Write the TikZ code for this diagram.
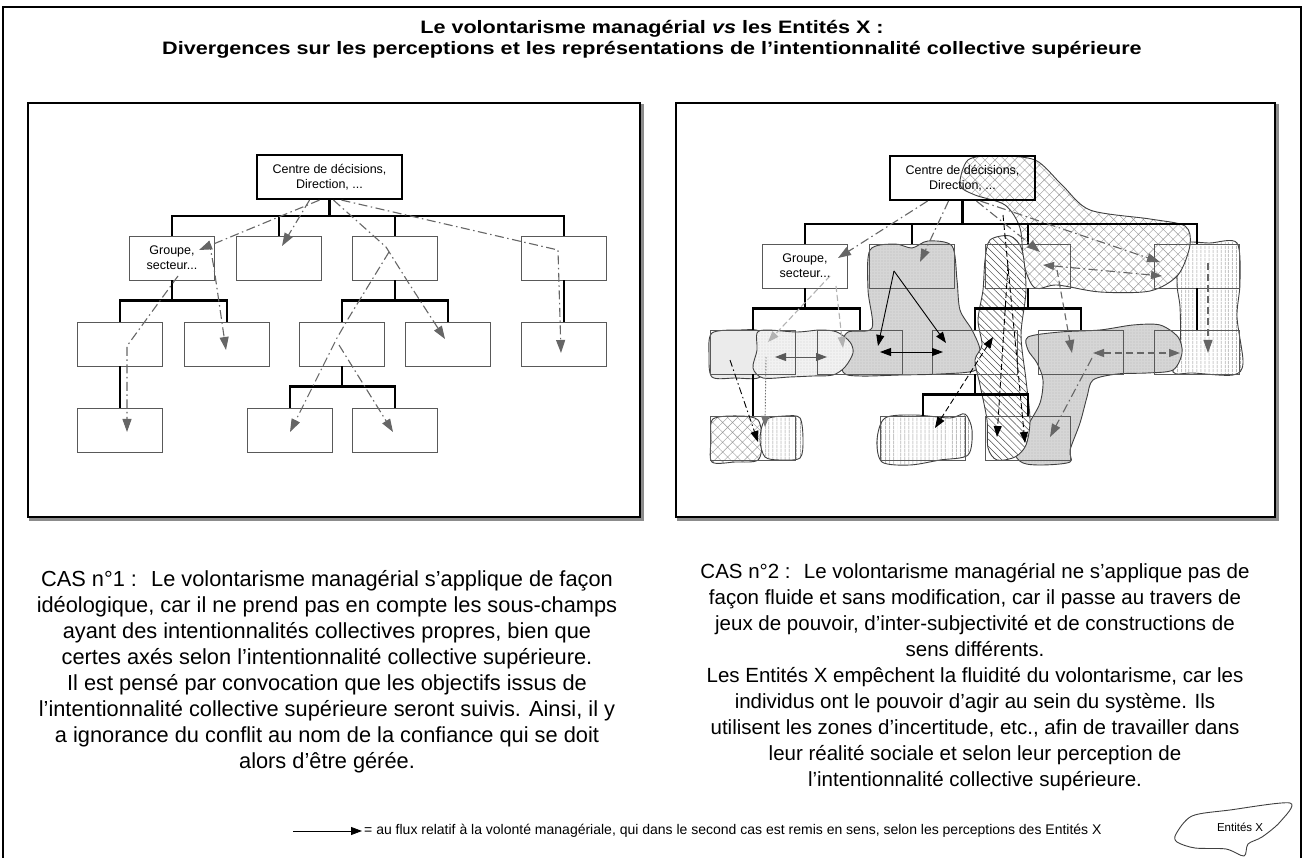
\documentclass[tikz,border=0pt]{standalone}
\usepackage{fontspec}
\setmainfont{Liberation Sans}
\newfontfamily\titrefont{Liberation Sans}[FakeStretch=1.2]
\usetikzlibrary{arrows.meta,patterns.meta,positioning}

\begin{document}
\begin{tikzpicture}[x=1pt,y=-1pt,
    cadre/.style={draw, line width=2.4pt},
    ombre/.style={draw=black!45, line width=2.4pt},
    poste/.style={draw=black!65, line width=0.9pt, minimum width=85pt, minimum height=44pt,
                  inner sep=1pt, align=center, font=\fontsize{12.5}{15}\selectfont},
    direction/.style={poste, draw=black, line width=2.2pt, minimum width=145pt},
    lien/.style={line width=2.2pt},
    flux/.style={draw=black!60, line width=1.1pt, dash pattern=on 9pt off 3.5pt on 1.5pt off 3.5pt,
                 -{Triangle[length=13pt,width=9pt]}},
    fluxnoir/.style={draw=black, line width=0.9pt, dash pattern=on 6pt off 3pt,
                 -{Triangle[length=11pt,width=8pt]}},
    fluxplein/.style={draw=black, line width=0.9pt, -{Triangle[length=11pt,width=8pt]}},
    fluxclair/.style={draw=black!30, line width=1.1pt, dash pattern=on 6pt off 3pt,
                 -{Triangle[length=11pt,width=8pt]}},
    deux/.style={{Triangle[length=11pt,width=8pt]}-{Triangle[length=11pt,width=8pt]}},
    entite/.style={draw=black!75, line width=0.9pt},
    croise/.style={entite, preaction={fill=white}, pattern={Hatch[angle=45,distance=7pt,line width=0.4pt]}, pattern color=black!40},
    vertical/.style={entite, preaction={fill=white}, pattern={Lines[angle=90,distance=4pt,line width=0.7pt]}, pattern color=black!55},
    oblique/.style={entite, preaction={fill=white}, pattern={Lines[angle=-45,distance=5pt,line width=0.5pt]}, pattern color=black!70},
    gris/.style={entite, preaction={fill=black!16}, pattern={Dots[distance=3pt,radius=0.45pt]}, pattern color=black!45},
    clair/.style={entite, preaction={fill=black!5}, pattern={Dots[distance=3pt,radius=0.45pt]}, pattern color=black!40},
    cas/.style={align=center, font=\fontsize{21.8}{26}\selectfont},
    titre/.style={align=center, font=\titrefont\fontsize{18}{21}\selectfont\bfseries}
  ]
    \useasboundingbox (0,0) rectangle (1304,858);
    \draw[cadre] (3,880) -- (3,7) -- (1301,7) -- (1301,880);

    \node[titre] (titre) at (652,39) {Le volontarisme managérial \textit{vs} les Entités X :\\
      Divergences sur les perceptions et les représentations de l’intentionnalité collective supérieure};

    \draw[ombre] (30.5,105.5) rectangle (642.5,519.5);
    \draw[ombre] (678.5,105.5) rectangle (1277.5,519.5);
    \draw[cadre, fill=white] (28,103) rectangle (640,517);
    \draw[cadre, fill=white] (676,103) rectangle (1275,517);

    % cas 1 : organigramme
    \node[direction] (dir1) at (329.5,177) {Centre de décisions,\\Direction, ...};
    \node[poste] (a1) at (172,258) {Groupe,\\secteur...};
    \node[poste] (b1) at (279,258) {};
    \node[poste] (c1) at (395,258) {};
    \node[poste] (d1) at (564,258) {};
    \node[poste] (e1) at (120,344) {};
    \node[poste] (f1) at (227,344) {};
    \node[poste] (g1) at (342,344) {};
    \node[poste] (h1) at (448,344) {};
    \node[poste] (i1) at (564,344) {};
    \node[poste] (j1) at (120,430) {};
    \node[poste] (k1) at (290,430) {};
    \node[poste] (l1) at (395,430) {};

    \draw[lien] (dir1.south) -- ++(0,16) -| (a1.north);
    \draw[lien] (dir1.south) -- ++(0,16) -| (b1.north);
    \draw[lien] (dir1.south) -- ++(0,16) -| (c1.north);
    \draw[lien] (dir1.south) -- ++(0,16) -| (d1.north);
    \draw[lien] (a1.south) -- ++(0,20) -| (e1.north);
    \draw[lien] (a1.south) -- ++(0,20) -| (f1.north);
    \draw[lien] (c1.south) -- ++(0,20) -| (g1.north);
    \draw[lien] (c1.south) -- ++(0,20) -| (h1.north);
    \draw[lien] (d1.south) -- (i1.north);
    \draw[lien] (e1.south) -- (j1.north);
    \draw[lien] (g1.south) -- ++(0,20) -| (k1.north);
    \draw[lien] (g1.south) -- ++(0,20) -| (l1.north);

    \coordinate (ga) at (199,250);  \coordinate (gb) at (282,246);
    \coordinate (gf0) at (209,241); \coordinate (gf1) at (214,268); \coordinate (gf) at (226,350);
    \coordinate (ge0) at (178,276); \coordinate (ge) at (127,346);  \coordinate (gj) at (127,432);
    \coordinate (gc) at (386,247);  \coordinate (gc2) at (408,282); \coordinate (gh) at (445,339);
    \coordinate (gg0) at (389,252); \coordinate (gg1) at (348,319); \coordinate (gg) at (337,338);
    \coordinate (gg2) at (339,345); \coordinate (gk) at (290,432);  \coordinate (gl) at (393,432);
    \coordinate (gd) at (558,250);  \coordinate (gi) at (561,353);

    \draw[flux] ([xshift=-10pt]dir1.south) -- (ga);
    \draw[flux] (gf0) -- (gf1) -- (gf);
    \draw[flux] (ge0) -- (ge) -- (gj);
    \draw[flux] ([xshift=-20pt]dir1.south) -- (gb);
    \draw[flux] ([xshift=4pt]dir1.south) -- (gc) -- (gc2) -- (gh);
    \draw[flux] (gg0) -- (gg1) -- (gg) -- (gk);
    \draw[flux] (gg2) -- (gl);
    \draw[flux] ([xshift=12pt]dir1.south) -- (gd) -- (gi);

    % cas 2 : les Entites X
    \draw[vertical] plot[smooth cycle] coordinates {(1180,245) (1210,243) (1237,243) (1240,283) (1237,317)
      (1243,363) (1233,375) (1193,373) (1173,372) (1180,343) (1180,307) (1177,283)};
    \draw[croise] plot[smooth cycle] coordinates {(960,185) (968,160) (995,156) (1035,160) (1062,185)
      (1090,210) (1150,219) (1185,226) (1190,245) (1178,275) (1150,291) (1100,292) (1057,285)
      (1035,288) (1024,265) (1020,228) (1005,205) (975,195)};
    \draw[gris] plot[smooth cycle] coordinates {(1028,337) (1060,332) (1100,330) (1133,325) (1160,325)
      (1178,337) (1182,353) (1173,370) (1147,373) (1117,374) (1093,380) (1087,397) (1080,423)
      (1070,450) (1070,462) (1043,465) (1023,463) (1015,452) (1027,427) (1040,403) (1043,380)
      (1037,363) (1028,350)};
    \draw[gris] plot[smooth cycle] coordinates {(870,250) (895,244) (912,248) (928,241) (952,246)
      (957,280) (960,310) (972,330) (980,350) (976,370) (940,374) (900,375) (860,376) (843,372)
      (842,345) (848,332) (872,328) (868,290)};
    \draw[oblique] plot[smooth cycle] coordinates {(990,240) (1010,236) (1022,250) (1026,290) (1021,335)
      (1026,380) (1030,420) (1026,445) (1015,457) (997,460) (988,448) (987,420) (980,385)
      (975,360) (982,345) (978,320) (983,290) (985,260)};
    \draw[entite, fill=black!8] plot[smooth cycle] coordinates {(712,333) (740,330) (760,332) (757,355)
      (760,377) (735,378) (712,377) (709,355)};
    \draw[clair] plot[smooth cycle] coordinates {(757,333) (767,330) (797,332) (820,330) (837,332)
      (850,342) (853,353) (845,367) (833,375) (813,376) (790,377) (763,378) (753,368) (757,350)};
    \draw[croise] plot[smooth cycle] coordinates {(713,419) (740,416) (758,420) (762,440) (758,460)
      (735,462) (712,462) (711,440)};
    \draw[vertical] plot[smooth cycle] coordinates {(765,420) (785,416) (800,418) (803,440) (800,458)
      (780,460) (765,457) (760,440)};
    \draw[vertical] plot[smooth cycle] coordinates {(885,418) (915,415) (950,418) (965,414) (972,430)
      (968,455) (940,460) (910,465) (882,462) (877,440)};

    \node[direction] (dir2) at (962.5,178) {Centre de décisions,\\Direction, ...};
    \node[poste] (a2) at (805,266) {Groupe,\\secteur...};
    \node[poste] (b2) at (912,266) {};
    \node[poste] (c2) at (1028,266) {};
    \node[poste] (d2) at (1197,266) {};
    \node[poste] (e2) at (753,352) {};
    \node[poste] (f2) at (860,352) {};
    \node[poste] (g2) at (975,352) {};
    \node[poste] (h2) at (1081,352) {};
    \node[poste] (i2) at (1197,352) {};
    \node[poste] (j2) at (753,438) {};
    \node[poste] (k2) at (923,438) {};
    \node[poste] (l2) at (1028,438) {};

    \draw[lien] (dir2.south) -- ++(0,23) -| (a2.north);
    \draw[lien] (dir2.south) -- ++(0,23) -| (b2.north);
    \draw[lien] (dir2.south) -- ++(0,23) -| (c2.north);
    \draw[lien] (dir2.south) -- ++(0,23) -| (d2.north);
    \draw[lien] (a2.south) -- ++(0,20) -| (e2.north);
    \draw[lien] (a2.south) -- ++(0,20) -| (f2.north);
    \draw[lien] (c2.south) -- ++(0,20) -| (g2.north);
    \draw[lien] (c2.south) -- ++(0,20) -| (h2.north);
    \draw[lien] (d2.south) -- (i2.north);
    \draw[lien] (e2.south) -- (j2.north);
    \draw[lien] (g2.south) -- ++(0,20) -| (k2.north);
    \draw[lien] (g2.south) -- ++(0,20) -| (l2.north);

    \coordinate (ra) at (838,258);   \coordinate (rb) at (920,262);   \coordinate (rc) at (1040,252);
    \coordinate (rd) at (1160,262);  \coordinate (rc1) at (1043,265); \coordinate (rd1) at (1162,276);
    \coordinate (rc2) at (1057,270); \coordinate (rh) at (1072,353);  \coordinate (rd2) at (1208,263);
    \coordinate (ri) at (1208,353);  \coordinate (rh1) at (1093,353); \coordinate (ri1) at (1180,353);
    \coordinate (rh2) at (1092,358); \coordinate (rl) at (1050,437);
    \coordinate (rw1) at (1008,265); \coordinate (rw2) at (997,437);
    \coordinate (rw3) at (1003,215); \coordinate (rw4) at (1025,443);
    \coordinate (rk) at (935,428);   \coordinate (rw5) at (993,337);
    \coordinate (rb1) at (894,271);  \coordinate (rf) at (878,346);   \coordinate (rg) at (946,343);
    \coordinate (rf1) at (880,352);  \coordinate (rg1) at (943,352);
    \coordinate (re1) at (775,357);  \coordinate (rf2) at (827,357);
    \coordinate (ra1) at (830,276);  \coordinate (re2) at (768,342);
    \coordinate (ra2) at (836,286);  \coordinate (rf3) at (843,348);
    \coordinate (re3) at (730,360);  \coordinate (rj) at (758,442);
    \coordinate (re4) at (766,357);  \coordinate (rj1) at (765,427);

    \draw[flux] ([xshift=-35pt]dir2.south) -- (ra);
    \draw[flux] ([xshift=-14pt]dir2.south) -- (rb);
    \draw[flux] ([xshift=14pt]dir2.south) -- (rc);
    \draw[flux] ([xshift=18pt]dir2.south) -- (rd);
    \draw[flux, deux] (rc1) -- (rd1);
    \draw[flux, dash pattern=on 7pt off 4pt] (rc2) -- (rh);
    \draw[flux, dash pattern=on 7pt off 4pt] (rd2) -- (ri);
    \draw[flux, deux, dash pattern=on 7pt off 4pt] (rh1) -- (ri1);
    \draw[flux] (rh2) -- (rl);
    \draw[fluxnoir] (rw1) -- (rw2);
    \draw[fluxnoir] (rw3) -- (rw4);
    \draw[fluxnoir, deux] (rk) -- (rw5);
    \draw[fluxplein] (rb1) -- (rf);
    \draw[fluxplein] (rb1) -- (rg);
    \draw[fluxplein, deux] (rf1) -- (rg1);
    \draw[fluxplein, deux, draw=black!65] (re1) -- (rf2);
    \draw[fluxclair] (ra1) -- (re2);
    \draw[fluxclair] (ra2) -- (rf3);
    \draw[fluxnoir, dash pattern=on 7pt off 3pt on 1.5pt off 3pt] (re3) -- (rj);
    \draw[fluxnoir, draw=black!55, dash pattern=on 1.5pt off 1.5pt] (re4) -- (rj1);

    % textes
    \node[cas] (cas1) at (327,672) {CAS n°1 :~ Le volontarisme managérial s’applique de façon\\
      idéologique, car il ne prend pas en compte les sous-champs\\
      ayant des intentionnalités collectives propres, bien que\\
      certes axés selon l’intentionnalité collective supérieure.\\
      Il est pensé par convocation que les objectifs issus de\\
      l’intentionnalité collective supérieure seront suivis. Ainsi, il y\\
      a ignorance du conflit au nom de la confiance qui se doit\\
      alors d’être gérée.};
    \node[cas, font=\fontsize{20.5}{26}\selectfont] (cas2) at (975,677) {CAS n°2 :~ Le volontarisme managérial ne s’applique pas de\\
      façon fluide et sans modification, car il passe au travers de\\
      jeux de pouvoir, d’inter-subjectivité et de constructions de\\
      sens différents.\\
      Les Entités X empêchent la fluidité du volontarisme, car les\\
      individus ont le pouvoir d’agir au sein du système. Ils\\
      utilisent les zones d’incertitude, etc., afin de travailler dans\\
      leur réalité sociale et selon leur perception de\\
      l’intentionnalité collective supérieure.};

    % legende
    \node[anchor=west, inner sep=2pt, font=\fontsize{14}{16}\selectfont] (leg) at (362,831)
      {= au flux relatif à la volonté managériale, qui dans le second cas est remis en sens, selon les perceptions des Entités X};
    \coordinate (leg0) at (293,831);
    \draw[fluxplein, line width=0.8pt] (leg0) -- (leg.west);
    \draw[entite] plot[smooth cycle] coordinates {(1176,834) (1192,816) (1230,810) (1290,803) (1280,822)
      (1262,837) (1248,844) (1244,856) (1226,849) (1195,848) (1177,842)};
    \node[font=\fontsize{11.5}{13}\selectfont] (ent) at (1240,827) {Entités X};
\end{tikzpicture}
\end{document}
